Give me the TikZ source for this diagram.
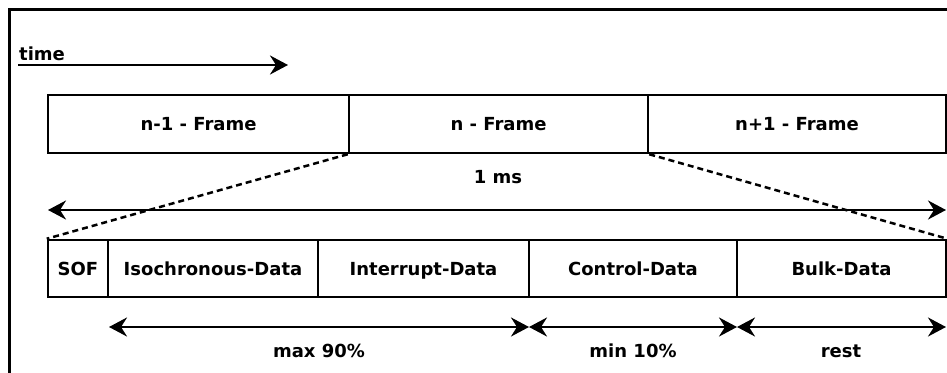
\documentclass[tikz,border=0pt]{standalone}
\usepackage{fontspec}
\setmainfont{DejaVu Sans}
\usetikzlibrary{arrows.meta}
\begin{document}
\begin{tikzpicture}[x=1pt,y=-1pt,
  box/.style={draw,line width=2.5pt,minimum height=#1,inner sep=0pt,
    text height=16pt,text depth=3pt,
    font=\fontsize{18}{21}\selectfont\bfseries},
  lbl/.style={font=\fontsize{18}{21}\selectfont\bfseries,inner sep=0pt},
  tip/.style={-{Stealth[length=18pt,width=19pt,inset=6pt]}},
  dtip/.style={{Stealth[length=18pt,width=19pt,inset=6pt]}-{Stealth[length=18pt,width=19pt,inset=6pt]}},
  arr/.style={line width=2.5pt}]
\useasboundingbox (0,0) rectangle (947,372);
% outer border
\draw[line width=3pt] (9,380) -- (9,9) -- (955,9);
% time
\node[lbl,anchor=base west] (time) at (19,60) {time};
\coordinate (t0) at (18,65);
\coordinate (t1) at (288,65);
\draw[arr,tip] (t0) -- (t1);
% top frames
\node[box=58pt,minimum width=301pt] (f1) at (198.5,124) {n-1 - Frame};
\node[box=58pt,minimum width=299pt] (f2) at (498.5,124) {n - Frame};
\node[box=58pt,minimum width=298pt] (f3) at (797,124) {n+1 - Frame};
\node[lbl,anchor=base] (ms) at (498,183) {1 ms};
\coordinate (m0) at (48,210);
\coordinate (m1) at (946,210);
\draw[arr,dtip] (m0) -- (m1);
% bottom frames
\node[box=57pt,minimum width=60pt] (sof) at (78,268.5) {SOF};
\node[box=57pt,minimum width=210pt] (iso) at (213,268.5) {Isochronous-Data};
\node[box=57pt,minimum width=211pt] (int) at (423.5,268.5) {Interrupt-Data};
\node[box=57pt,minimum width=208pt] (ctl) at (633,268.5) {Control-Data};
\node[box=57pt,minimum width=209pt] (blk) at (841.5,268.5) {Bulk-Data};
% dashed zoom lines
\draw[line width=2.5pt,dash pattern=on 6pt off 4pt] (f2.south west) -- (sof.north west);
\draw[line width=2.5pt,dash pattern=on 6pt off 4pt] (f2.south east) -- (blk.north east);
% bottom arrows
\coordinate (b0) at (109,327);
\coordinate (b1) at (529,327);
\coordinate (b2) at (737,327);
\coordinate (b3) at (946,327);
\draw[arr,dtip] (b0) -- (b1);
\draw[arr,dtip] (b1) -- (b2);
\draw[arr,dtip] (b2) -- (b3);
\node[lbl,anchor=base] (l1) at (319,357) {max 90\%};
\node[lbl,anchor=base] (l2) at (633,357) {min 10\%};
\node[lbl,anchor=base] (l3) at (841,357) {rest};
\end{tikzpicture}
\end{document}
